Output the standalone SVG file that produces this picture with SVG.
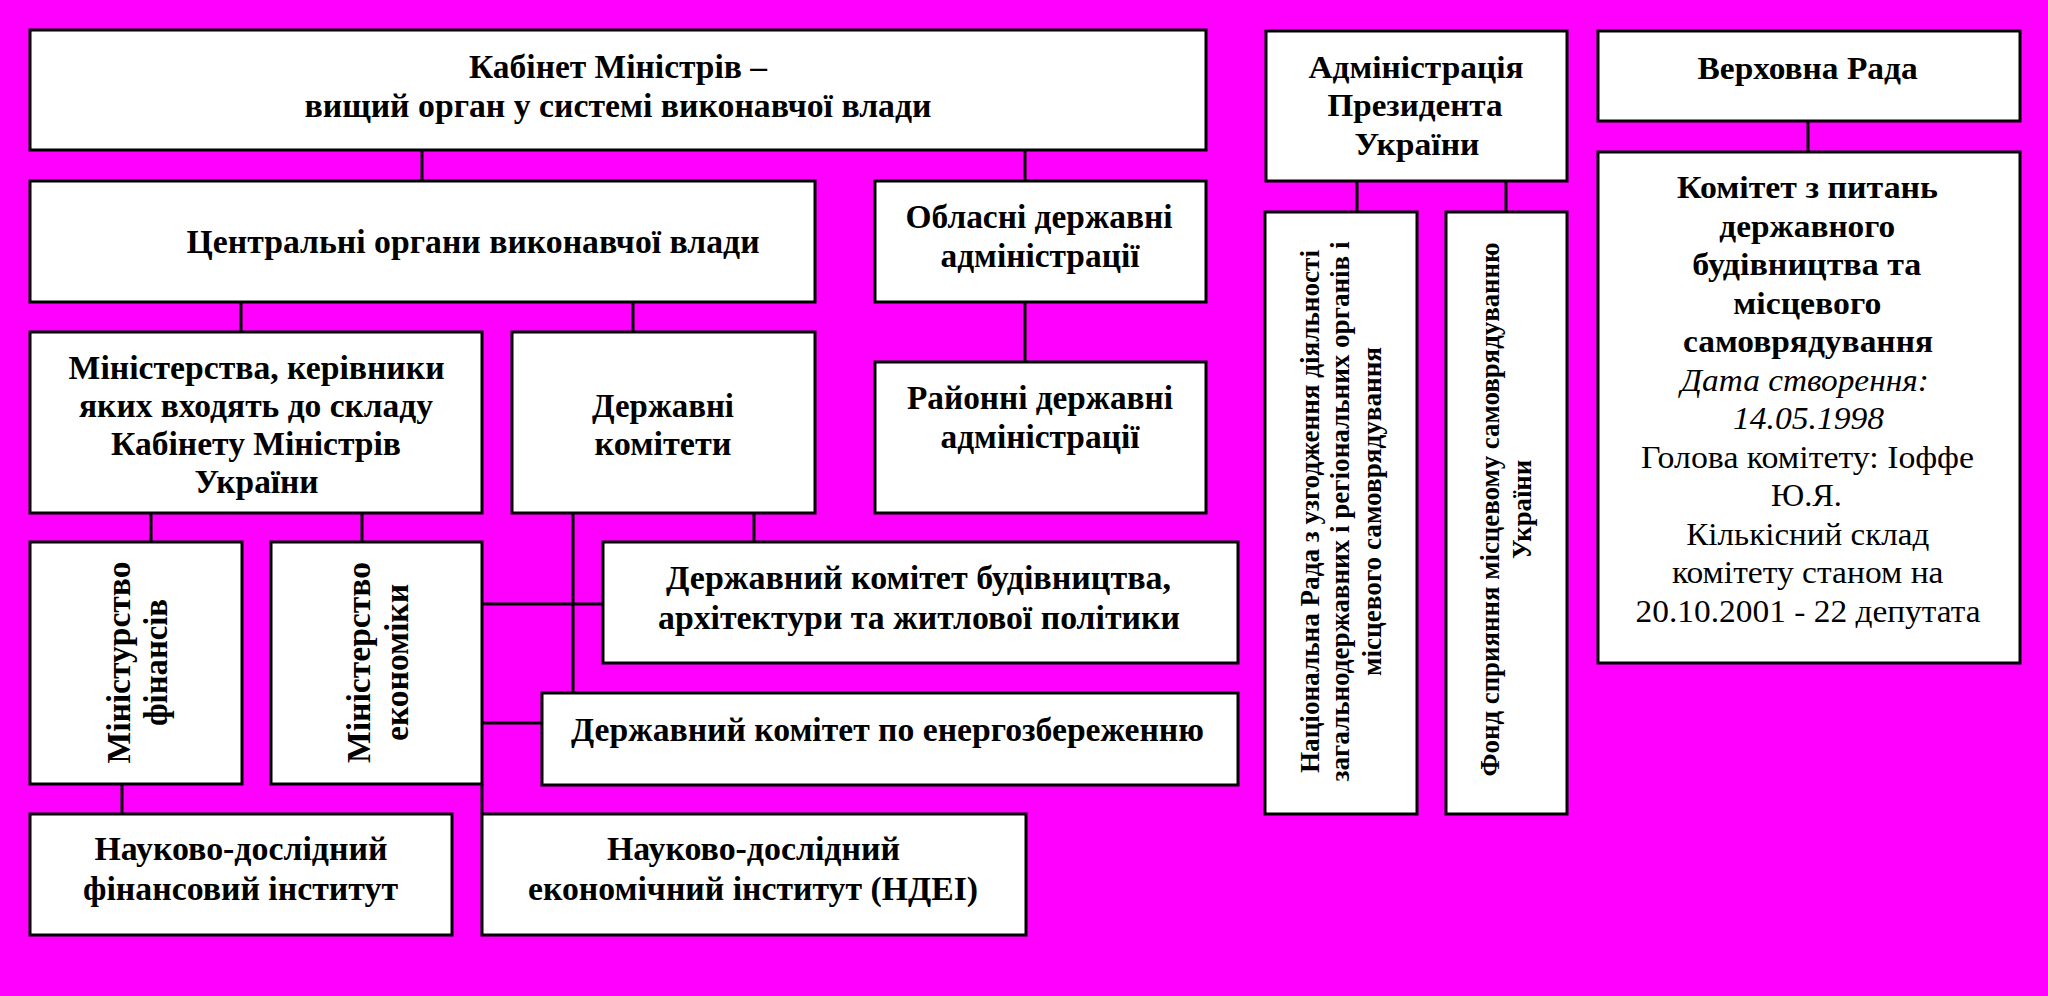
<svg xmlns="http://www.w3.org/2000/svg" width="2048" height="996" viewBox="0 0 2048 996">
<style>
.box{fill:#ffffff;stroke:#000000;stroke-width:3}
.ln{stroke:#000000;stroke-width:3;fill:none}
text{font-family:"Liberation Serif","Times New Roman",serif;fill:#000000;text-anchor:middle}
.c{font-size:33px;font-weight:bold}
.v{font-size:33px;font-weight:bold}
.n{font-size:27px;font-weight:bold}
.b{font-size:32px;font-weight:bold}
.r{font-size:31px}
.i{font-size:31px;font-style:italic}
</style>
<rect x="0" y="0" width="2048" height="996" fill="#ff00ff"/>
<g id="connectors">
<line class="ln" x1="422" y1="150" x2="422" y2="181"/>
<line class="ln" x1="1025" y1="150" x2="1025" y2="181"/>
<line class="ln" x1="241" y1="302" x2="241" y2="332"/>
<line class="ln" x1="633" y1="302" x2="633" y2="332"/>
<line class="ln" x1="1025" y1="302" x2="1025" y2="362"/>
<line class="ln" x1="151" y1="513" x2="151" y2="542"/>
<line class="ln" x1="362" y1="513" x2="362" y2="542"/>
<line class="ln" x1="573" y1="513" x2="573" y2="693"/>
<line class="ln" x1="754" y1="513" x2="754" y2="542"/>
<line class="ln" x1="482" y1="604" x2="603" y2="604"/>
<line class="ln" x1="482" y1="723" x2="542" y2="723"/>
<line class="ln" x1="122" y1="784" x2="122" y2="814"/>
<line class="ln" x1="482" y1="784" x2="482" y2="814"/>
<line class="ln" x1="1357" y1="181" x2="1357" y2="212"/>
<line class="ln" x1="1506" y1="181" x2="1506" y2="212"/>
<line class="ln" x1="1808" y1="121" x2="1808" y2="152"/>
</g>
<g id="cabinet">
<rect class="box" x="30" y="30" width="1176" height="120"/>
<text class="c" x="618" y="77.5" textLength="298" lengthAdjust="spacingAndGlyphs">Кабінет Міністрів –</text>
<text class="c" x="618" y="117" textLength="627" lengthAdjust="spacingAndGlyphs">вищий орган у системі виконавчої влади</text>
</g>
<g id="central">
<rect class="box" x="30" y="181" width="785" height="121"/>
<text class="c" x="186.6" y="253" style="text-anchor:start" textLength="573" lengthAdjust="spacingAndGlyphs">Центральні органи виконавчої влади</text>
</g>
<g id="oblasni">
<rect class="box" x="875" y="181" width="331" height="121"/>
<text class="c" x="1039" y="228" textLength="267" lengthAdjust="spacingAndGlyphs">Обласні державні</text>
<text class="c" x="1040" y="267" textLength="199" lengthAdjust="spacingAndGlyphs">адміністрації</text>
</g>
<g id="ministries">
<rect class="box" x="30" y="332" width="452" height="181"/>
<text class="c" x="256.6" y="379" textLength="376" lengthAdjust="spacingAndGlyphs">Міністерства, керівники</text>
<text class="c" x="256" y="417" textLength="354" lengthAdjust="spacingAndGlyphs">яких входять до складу</text>
<text class="c" x="256" y="455" textLength="290" lengthAdjust="spacingAndGlyphs">Кабінету Міністрів</text>
<text class="c" x="256.6" y="493" textLength="124" lengthAdjust="spacingAndGlyphs">України</text>
</g>
<g id="state-committees">
<rect class="box" x="512" y="332" width="303" height="181"/>
<text class="c" x="663" y="417" textLength="142" lengthAdjust="spacingAndGlyphs">Державні</text>
<text class="c" x="663" y="455" textLength="137" lengthAdjust="spacingAndGlyphs">комітети</text>
</g>
<g id="raionni">
<rect class="box" x="875" y="362" width="331" height="151"/>
<text class="c" x="1040" y="409" textLength="266" lengthAdjust="spacingAndGlyphs">Районні державні</text>
<text class="c" x="1040" y="448" textLength="199" lengthAdjust="spacingAndGlyphs">адміністрації</text>
</g>
<g id="minfin">
<rect class="box" x="30" y="542" width="212" height="242"/>
<g transform="translate(0,662.5) rotate(-90)">
<text class="v" x="0" y="130" textLength="202" lengthAdjust="spacingAndGlyphs">Міністурство</text>
<text class="v" x="0" y="167" textLength="127" lengthAdjust="spacingAndGlyphs">фінансів</text>
</g>
</g>
<g id="minekon">
<rect class="box" x="271" y="542" width="211" height="242"/>
<g transform="translate(0,662.5) rotate(-90)">
<text class="v" x="0" y="370" textLength="201" lengthAdjust="spacingAndGlyphs">Міністерство</text>
<text class="v" x="0" y="408" textLength="157" lengthAdjust="spacingAndGlyphs">економіки</text>
</g>
</g>
<g id="budivnytstva">
<rect class="box" x="603" y="542" width="635" height="121"/>
<text class="c" x="918.5" y="589" textLength="505" lengthAdjust="spacingAndGlyphs">Державний комітет будівництва,</text>
<text class="c" x="919" y="629" textLength="522" lengthAdjust="spacingAndGlyphs">архітектури та житлової політики</text>
</g>
<g id="energo">
<rect class="box" x="542" y="693" width="696" height="92"/>
<text class="c" x="887.5" y="741" textLength="633" lengthAdjust="spacingAndGlyphs">Державний комітет по енергозбереженню</text>
</g>
<g id="ndfi">
<rect class="box" x="30" y="814" width="422" height="121"/>
<text class="c" x="241" y="860" textLength="293" lengthAdjust="spacingAndGlyphs">Науково-дослідний</text>
<text class="c" x="240.5" y="900" textLength="315" lengthAdjust="spacingAndGlyphs">фінансовий інститут</text>
</g>
<g id="ndei">
<rect class="box" x="482" y="814" width="544" height="121"/>
<text class="c" x="753.5" y="860" textLength="293" lengthAdjust="spacingAndGlyphs">Науково-дослідний</text>
<text class="c" x="753" y="900" textLength="450" lengthAdjust="spacingAndGlyphs">економічний інститут (НДЕІ)</text>
</g>
<g id="admin">
<rect class="box" x="1266" y="31" width="301" height="150"/>
<text class="b" x="1416" y="77.7" textLength="215" lengthAdjust="spacingAndGlyphs">Адміністрація</text>
<text class="b" x="1415" y="116" textLength="175" lengthAdjust="spacingAndGlyphs">Президента</text>
<text class="b" x="1417" y="155.4" textLength="125" lengthAdjust="spacingAndGlyphs">України</text>
</g>
<g id="natsrada">
<rect class="box" x="1265" y="212" width="152" height="602"/>
<g transform="translate(0,511.5) rotate(-90)">
<text class="n" x="0" y="1319.3" textLength="523" lengthAdjust="spacingAndGlyphs">Національна Рада з узгодження діяльності</text>
<text class="n" x="0" y="1349.3" textLength="540" lengthAdjust="spacingAndGlyphs">загальнодержавних і регіональних органів і</text>
<text class="n" x="0" y="1380.7" textLength="329" lengthAdjust="spacingAndGlyphs">місцевого самоврядування</text>
</g>
</g>
<g id="fond">
<rect class="box" x="1446" y="212" width="121" height="602"/>
<g transform="translate(0,509.5) rotate(-90)">
<text class="n" x="0" y="1499.3" textLength="534" lengthAdjust="spacingAndGlyphs">Фонд сприяння місцевому самоврядуванню</text>
<text class="n" x="0" y="1530.7" textLength="99" lengthAdjust="spacingAndGlyphs">України</text>
</g>
</g>
<g id="verkhovna">
<rect class="box" x="1598" y="31" width="422" height="90"/>
<text class="b" x="1807.6" y="79.3" textLength="220" lengthAdjust="spacingAndGlyphs">Верховна Рада</text>
</g>
<g id="komitet">
<rect class="box" x="1598" y="152" width="422" height="511"/>
<text class="b" x="1807.5" y="198.2" textLength="261" lengthAdjust="spacingAndGlyphs">Комітет з питань</text>
<text class="b" x="1807.3" y="236.7" textLength="176" lengthAdjust="spacingAndGlyphs">державного</text>
<text class="b" x="1806.8" y="275.2" textLength="229" lengthAdjust="spacingAndGlyphs">будівництва та</text>
<text class="b" x="1807.3" y="313.7" textLength="148" lengthAdjust="spacingAndGlyphs">місцевого</text>
<text class="b" x="1808" y="352.2" textLength="250" lengthAdjust="spacingAndGlyphs">самоврядування</text>
<text class="i" x="1804.8" y="390.7" textLength="248" lengthAdjust="spacingAndGlyphs">Дата створення:</text>
<text class="i" x="1808.5" y="429.2" textLength="151" lengthAdjust="spacingAndGlyphs">14.05.1998</text>
<text class="r" x="1807.5" y="467.7" textLength="333" lengthAdjust="spacingAndGlyphs">Голова комітету: Іоффе</text>
<text class="r" x="1806.4" y="506.2" textLength="71" lengthAdjust="spacingAndGlyphs">Ю.Я.</text>
<text class="r" x="1807.8" y="544.7" textLength="243" lengthAdjust="spacingAndGlyphs">Кількісний склад</text>
<text class="r" x="1807.7" y="583.2" textLength="271.6" lengthAdjust="spacingAndGlyphs">комітету станом на</text>
<text class="r" x="1808.1" y="621.7" textLength="345" lengthAdjust="spacingAndGlyphs">20.10.2001 - 22 депутата</text>
</g>
</svg>
